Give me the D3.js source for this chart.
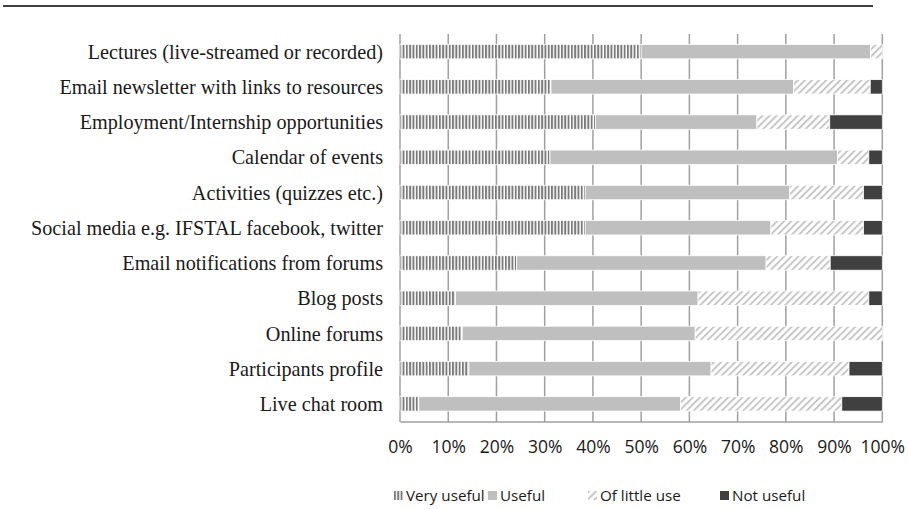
<!DOCTYPE html>
<html>
<head>
<meta charset="utf-8">
<script src="https://cdn.jsdelivr.net/npm/d3@7"></script>
<style>
  body { margin: 0; background: #fff; }
  .cat { font-family: "Liberation Serif", "Times New Roman", serif; font-size: 20.2px; fill: #1a1a1a; }
  .tick text { font-family: "Open Sans", sans-serif; font-size: 17.5px; fill: #1a1a1a; }
  .leg { font-family: "Open Sans", sans-serif; font-size: 15.2px; fill: #1a1a1a; }
</style>
</head>
<body>
<div id="chart"></div>
<script>
var categories = [
  "Lectures (live-streamed or recorded)",
  "Email newsletter with links to resources",
  "Employment/Internship opportunities",
  "Calendar of events",
  "Activities (quizzes etc.)",
  "Social media e.g. IFSTAL facebook, twitter",
  "Email notifications from forums",
  "Blog posts",
  "Online forums",
  "Participants profile",
  "Live chat room"
];
var seriesNames = ["Very useful", "Useful", "Of little use", "Not useful"];
var veryUseful = [50.0, 31.3, 40.5, 31.1, 38.4, 38.4, 24.2, 11.5, 12.9, 14.3, 3.9];
var usefulVals = [47.6, 50.3, 33.5, 59.6, 42.4, 38.5, 51.7, 50.3, 48.3, 50.2, 54.3];
var littleUse  = [2.4, 15.9, 15.1, 6.5, 15.3, 19.2, 13.3, 35.4, 38.8, 28.6, 33.4];
var notUseful  = [0.0, 2.5, 10.9, 2.8, 3.9, 3.9, 10.8, 2.8, 0.0, 6.9, 8.4];
var tickValues = [0, 0.1, 0.2, 0.3, 0.4, 0.5, 0.6, 0.7, 0.8, 0.9, 1.0];

var width = 909, height = 509;
var plotL = 400, plotR = 882.3, plotT = 34, plotB = 421.5;

// rows for the stack, built from the arrays above
var rows = categories.map(function(c, i) {
  var r = {cat: c};
  r[seriesNames[0]] = veryUseful[i];
  r[seriesNames[1]] = usefulVals[i];
  r[seriesNames[2]] = littleUse[i];
  r[seriesNames[3]] = notUseful[i];
  return r;
});
var stacked = d3.stack().keys(seriesNames).offset(d3.stackOffsetExpand)(rows);

var x = d3.scaleLinear().domain([0, 1]).range([plotL, plotR]);
var y = d3.scaleBand().domain(categories).range([plotT, plotB])
          .paddingInner(0.59).paddingOuter(0.295);

var svg = d3.select("#chart").append("svg")
            .attr("width", width).attr("height", height);

var defs = svg.append("defs");
var vs = defs.append("pattern").attr("id", "vstripe")
  .attr("patternUnits", "userSpaceOnUse").attr("width", 3.3).attr("height", 10);
vs.append("rect").attr("width", 3.3).attr("height", 10).attr("fill", "#fff");
vs.append("rect").attr("width", 1.9).attr("height", 10).attr("fill", "#7a7a7a");

var hs = defs.append("pattern").attr("id", "hatch")
  .attr("patternUnits", "userSpaceOnUse").attr("width", 5).attr("height", 5)
  .attr("patternTransform", "rotate(45)");
hs.append("rect").attr("width", 5).attr("height", 5).attr("fill", "#fff");
hs.append("rect").attr("width", 1.7).attr("height", 5).attr("fill", "#c0c0c0");

var sh = defs.append("filter").attr("id", "shadow").attr("height", "400%").attr("y", "-100%");
sh.append("feGaussianBlur").attr("stdDeviation", 2);

var fills = {
  "Very useful": "url(#vstripe)",
  "Useful": "#bfbfbf",
  "Of little use": "url(#hatch)",
  "Not useful": "#404040"
};

// top rule with soft shadow
svg.append("line").attr("x1", 4).attr("x2", 872).attr("y1", 9).attr("y2", 9)
   .attr("stroke", "#ccc").attr("stroke-width", 2).attr("filter", "url(#shadow)");
svg.append("line").attr("x1", 3).attr("x2", 873).attr("y1", 6).attr("y2", 6)
   .attr("stroke", "#000").attr("stroke-width", 1.3);

// gridlines
svg.append("g").selectAll("line").data(tickValues).enter().append("line")
   .attr("x1", function(d){ return x(d); }).attr("x2", function(d){ return x(d); })
   .attr("y1", plotT).attr("y2", plotB + 0.5)
   .attr("stroke", "#a0a0a0").attr("stroke-width", 1.5);

// bottom axis
var xAxis = d3.axisBottom(x).tickValues(tickValues).tickFormat(d3.format(".0%"))
              .tickSize(0).tickPadding(19);
var ax = svg.append("g").attr("transform", "translate(0," + plotB + ")").call(xAxis);
ax.select(".domain").attr("stroke", "#a0a0a0").attr("stroke-width", 1.5);

// bars
var layers = svg.append("g").selectAll("g").data(stacked).enter().append("g")
   .attr("fill", function(d){ return fills[d.key]; });
layers.selectAll("rect").data(function(d){ return d; }).enter().append("rect")
   .attr("x", function(d){ return x(d[0]); })
   .attr("width", function(d){ return Math.max(0, x(d[1]) - x(d[0])); })
   .attr("y", function(d){ return y(d.data.cat); })
   .attr("height", y.bandwidth())
   .attr("stroke", "#fff").attr("stroke-width", 0.8);

// category labels
svg.append("g").selectAll("text").data(categories).enter().append("text")
   .attr("class", "cat")
   .attr("x", 383)
   .attr("y", function(d){ return y(d) + y.bandwidth() / 2; })
   .attr("dy", "0.35em")
   .attr("text-anchor", "end")
   .text(function(d){ return d; });

// legend
var legX = [394, 488, 588, 720];
var leg = svg.append("g").selectAll("g").data(seriesNames).enter().append("g")
   .attr("transform", function(d, i){ return "translate(" + legX[i] + ",491)"; });
leg.append("rect").attr("width", 9).attr("height", 9)
   .attr("fill", function(d){ return fills[d]; });
leg.append("text").attr("class", "leg").attr("x", 12).attr("y", 5).attr("dy", "0.35em")
   .text(function(d){ return d; });
</script>
</body>
</html>
